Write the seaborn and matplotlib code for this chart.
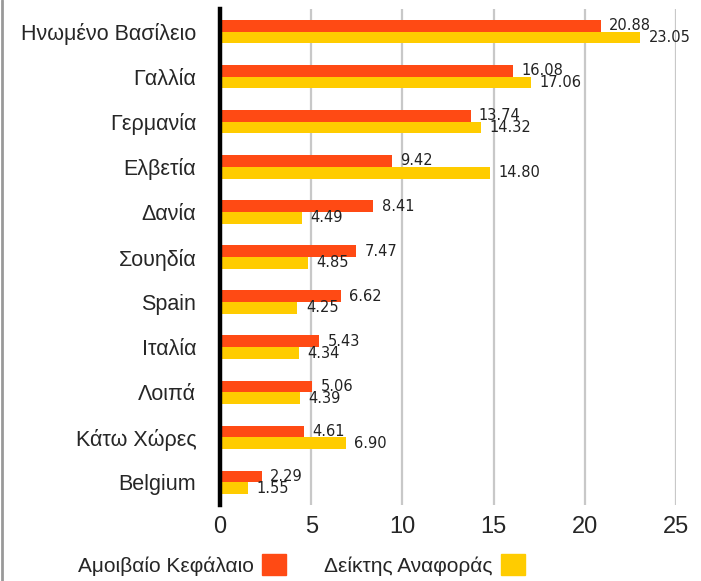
import numpy as np
import pandas as pd
import seaborn as sns
import matplotlib.pyplot as plt
from matplotlib.lines import Line2D

sns.set_style("white")
plt.rcParams["font.family"] = ["Liberation Sans", "DejaVu Sans"]

# data
countries = ["Ηνωμένο Βασίλειο", "Γαλλία", "Γερμανία", "Ελβετία", "Δανία", "Σουηδία",
             "Spain", "Ιταλία", "Λοιπά", "Κάτω Χώρες", "Belgium"]
fund = [20.88, 16.08, 13.74, 9.42, 8.41, 7.47, 6.62, 5.43, 5.06, 4.61, 2.29]
bench = [23.05, 17.06, 14.32, 14.80, 4.49, 4.85, 4.25, 4.34, 4.39, 6.90, 1.55]
series = ["Αμοιβαίο Κεφάλαιο", "Δείκτης Αναφοράς"]
colors = ["#FF4A14", "#FFCC00"]

df = pd.DataFrame({"country": countries * 2,
                   "value": fund + bench,
                   "series": [series[0]] * len(countries) + [series[1]] * len(countries)})

fig = plt.figure(figsize=(7.01, 5.81), dpi=100, facecolor="w")
ax = fig.add_axes([0.3138, 0.1308, 0.6505, 0.8537])

sns.barplot(data=df, x="value", y="country", hue="series", orient="h",
            palette=colors, saturation=1, width=0.52, linewidth=0, ax=ax, legend=False)

for cont in ax.containers:
    ax.bar_label(cont, fmt="%.2f", padding=6, fontsize=10.5,
                 family=["DejaVu Sans"], color="#222222")

ax.set_xlim(0, 25)
ax.set_ylim(10.5, -0.5)
ax.set_xticks([0, 5, 10, 15, 20, 25])
ax.set_xlabel("")
ax.set_ylabel("")
ax.xaxis.grid(True, color="#c8c8c8", lw=1.6)
ax.set_axisbelow(True)
for s in ["top", "right", "bottom"]:
    ax.spines[s].set_visible(False)
ax.spines["left"].set_color("black")
ax.spines["left"].set_linewidth(3.2)
ax.spines["left"].set_zorder(5)
ax.tick_params(axis="x", length=0, pad=8, labelsize=17)
ax.tick_params(axis="y", length=0, pad=17, labelsize=15.5)

handles = [plt.Rectangle((0, 0), 1, 1, color=c) for c in colors]
fig.legend(handles, series, loc="center", bbox_to_anchor=(0.43, 0.028), ncol=2,
           frameon=False, markerfirst=False, fontsize=15, handlelength=1.15,
           handleheight=1.2, handletextpad=0.4, columnspacing=1.8)

# thin gray frame line on the left edge
fig.add_artist(Line2D([0.003, 0.003], [0, 1], color="#999999", lw=2,
                      transform=fig.transFigure))

fig.savefig("out.png", dpi=100, facecolor="w")
